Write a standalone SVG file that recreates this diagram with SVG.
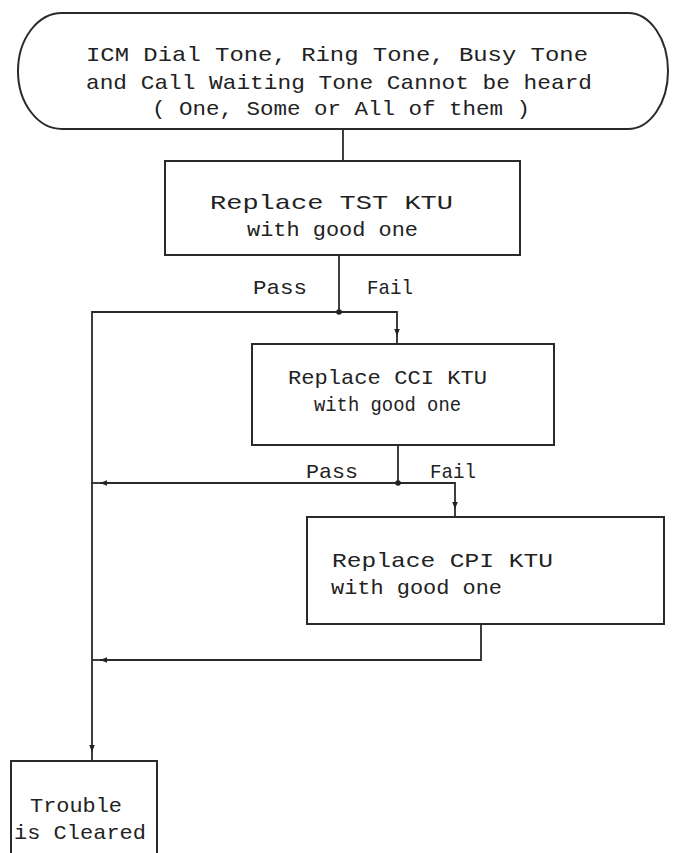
<svg xmlns="http://www.w3.org/2000/svg" width="679" height="853" viewBox="0 0 679 853">
  <defs>
    <style>
      .shape { fill: #fff; stroke: #2a2a2a; stroke-width: 2; }
      .wire { fill: none; stroke: #2a2a2a; stroke-width: 1.8; }
      .lbl { font-family: "Liberation Mono", "DejaVu Sans Mono", monospace; font-size: 21px; fill: #222; }
      .dot { fill: #222; }
    </style>
    <marker id="arr" viewBox="0 0 10 10" refX="10" refY="5" markerWidth="7" markerHeight="7" orient="auto" markerUnits="userSpaceOnUse">
      <path d="M0,1 L10,5 L0,9 Z" fill="#222"/>
    </marker>
  </defs>
  <rect width="679" height="853" fill="#fff"/>

  <!-- start terminator -->
  <g id="start">
    <path class="shape" d="M62,13 H628 A40,58 0 0 1 628,129 H62 A44,58 0 0 1 62,13 Z"/>
    <text class="lbl" x="86" y="61" textLength="502" lengthAdjust="spacingAndGlyphs">ICM Dial Tone, Ring Tone, Busy Tone</text>
    <text class="lbl" x="86" y="89" textLength="506" lengthAdjust="spacingAndGlyphs">and Call Waiting Tone Cannot be heard</text>
    <text class="lbl" x="152" y="115" textLength="378" lengthAdjust="spacingAndGlyphs">( One, Some or All of them )</text>
  </g>

  <!-- TST step -->
  <g id="tst">
    <rect class="shape" x="165" y="161" width="355" height="94"/>
    <text class="lbl" x="210" y="209" textLength="243" lengthAdjust="spacingAndGlyphs">Replace  TST KTU</text>
    <text class="lbl" x="247" y="236" textLength="171" lengthAdjust="spacingAndGlyphs">with good one</text>
  </g>

  <!-- CCI step -->
  <g id="cci">
    <rect class="shape" x="252" y="344" width="302" height="101"/>
    <text class="lbl" x="288" y="384" textLength="199" lengthAdjust="spacingAndGlyphs">Replace CCI KTU</text>
    <text class="lbl" x="314" y="411" textLength="147" lengthAdjust="spacingAndGlyphs">with good one</text>
  </g>

  <!-- CPI step -->
  <g id="cpi">
    <rect class="shape" x="307" y="517" width="357" height="107"/>
    <text class="lbl" x="332" y="567" textLength="221" lengthAdjust="spacingAndGlyphs">Replace CPI KTU</text>
    <text class="lbl" x="331" y="594" textLength="171" lengthAdjust="spacingAndGlyphs">with good one</text>
  </g>

  <!-- end state -->
  <g id="cleared">
    <rect class="shape" x="11" y="761" width="146" height="100"/>
    <text class="lbl" x="30" y="812" textLength="92" lengthAdjust="spacingAndGlyphs">Trouble</text>
    <text class="lbl" x="14" y="839" textLength="132" lengthAdjust="spacingAndGlyphs">is Cleared</text>
  </g>

  <!-- connectors -->
  <g id="connectors">
    <path class="wire" d="M343,129 V161"/>
    <path class="wire" d="M339,255 V312"/>
    <path class="wire" d="M339,312 H397 V336" marker-end="url(#arr)"/>
    <path class="wire" d="M397,336 V344"/>
    <path class="wire" d="M339,312 H92 V752" marker-end="url(#arr)"/>
    <path class="wire" d="M92,752 V761"/>
    <path class="wire" d="M398,445 V483"/>
    <path class="wire" d="M398,483 H455 V509" marker-end="url(#arr)"/>
    <path class="wire" d="M455,509 V517"/>
    <path class="wire" d="M398,483 H100" marker-end="url(#arr)"/>
    <path class="wire" d="M100,483 H92"/>
    <path class="wire" d="M481,624 V660 H100" marker-end="url(#arr)"/>
    <path class="wire" d="M100,660 H92"/>
    <circle class="dot" cx="339" cy="312" r="2.8"/>
    <circle class="dot" cx="398" cy="483" r="2.8"/>
    <text class="lbl" x="253" y="294" textLength="54" lengthAdjust="spacingAndGlyphs">Pass</text>
    <text class="lbl" x="367" y="294" textLength="46" lengthAdjust="spacingAndGlyphs">Fail</text>
    <text class="lbl" x="306" y="478" textLength="52" lengthAdjust="spacingAndGlyphs">Pass</text>
    <text class="lbl" x="430" y="478" textLength="46" lengthAdjust="spacingAndGlyphs">Fail</text>
  </g>
</svg>
